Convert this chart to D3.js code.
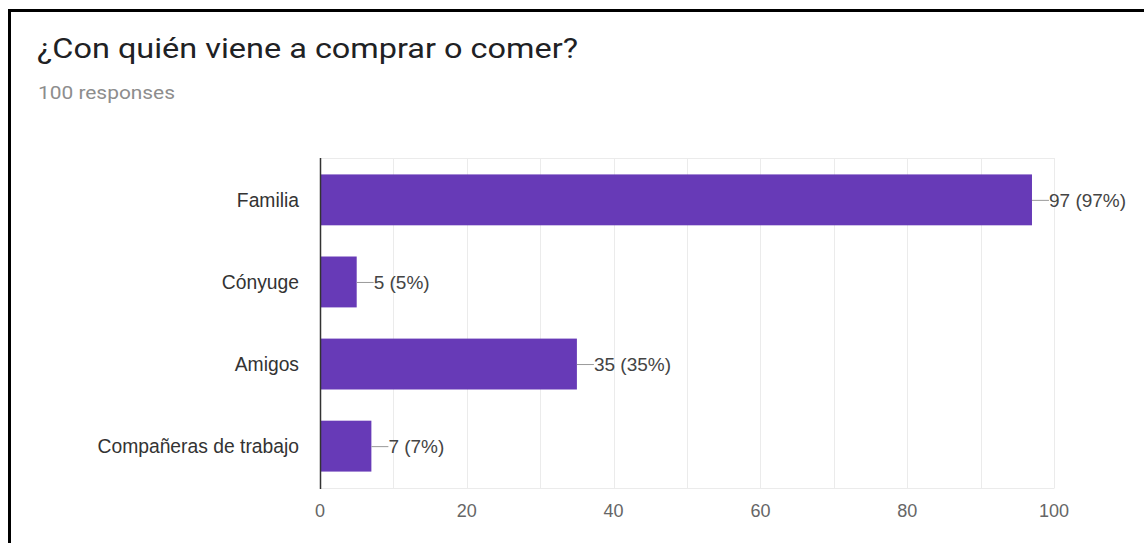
<!DOCTYPE html>
<html>
<head>
<meta charset="utf-8">
<script src="https://cdn.jsdelivr.net/npm/d3@7"></script>
<style>
  body { margin: 0; background: #fff; }
  svg { display: block; }
</style>
</head>
<body>
<svg id="chart" width="1144" height="543"></svg>
<script>
"use strict";

// data
var categories = ["Familia", "Cónyuge", "Amigos", "Compañeras de trabajo"];
var counts = [97, 5, 35, 7];
var totalResponses = 100;
var tickValues = [0, 20, 40, 60, 80, 100];
var gridValues = [10, 20, 30, 40, 50, 60, 70, 80, 90, 100];

var svg = d3.select("#chart");
var width = 1144, height = 543;
var labelFont = "Arial, 'Liberation Sans', sans-serif";

// black frame (left and top only visible)
svg.append("line")
  .attr("x1", 9.5).attr("y1", 10).attr("x2", 9.5).attr("y2", height)
  .attr("stroke", "#000").attr("stroke-width", 3);
svg.append("line")
  .attr("x1", 8).attr("y1", 10.5).attr("x2", width).attr("y2", 10.5)
  .attr("stroke", "#000").attr("stroke-width", 3);

// title block
svg.append("text")
  .attr("x", 37).attr("y", 58)
  .attr("font-family", "Roboto, sans-serif")
  .attr("font-size", "28px")
  .attr("fill", "#202124")
  .attr("textLength", 541)
  .attr("lengthAdjust", "spacingAndGlyphs")
  .text("¿Con quién viene a comprar o comer?");

svg.append("text")
  .attr("x", 38).attr("y", 99)
  .attr("font-family", "Roboto, sans-serif")
  .attr("font-size", "18px")
  .attr("fill", "#8d8d8d")
  .attr("textLength", 137)
  .attr("lengthAdjust", "spacingAndGlyphs")
  .text(totalResponses + " responses");

var margin = {left: 320, right: 1054, top: 158, bottom: 488};

var x = d3.scaleLinear()
  .domain([0, 100])
  .range([margin.left, margin.right]);

var y = d3.scaleBand()
  .domain(categories)
  .range([margin.top, margin.bottom])
  .paddingInner(0.38)
  .paddingOuter(0.2);

var g = svg.append("g");

// grid lines
g.selectAll(".grid")
  .data(gridValues)
  .enter()
  .append("line")
    .attr("class", "grid")
    .attr("x1", function (d) { return Math.round(x(d)) + 0.5; })
    .attr("x2", function (d) { return Math.round(x(d)) + 0.5; })
    .attr("y1", margin.top)
    .attr("y2", margin.bottom)
    .attr("stroke", "#ebebeb");

g.append("line")
  .attr("x1", margin.left).attr("x2", margin.right + 0.5)
  .attr("y1", margin.top + 0.5).attr("y2", margin.top + 0.5)
  .attr("stroke", "#ebebeb");
g.append("line")
  .attr("x1", margin.left).attr("x2", margin.right + 0.5)
  .attr("y1", margin.bottom + 0.5).attr("y2", margin.bottom + 0.5)
  .attr("stroke", "#ebebeb");

// bars
g.selectAll(".bar")
  .data(counts)
  .enter()
  .append("rect")
    .attr("class", "bar")
    .attr("x", x(0))
    .attr("y", function (d, i) { return y(categories[i]); })
    .attr("width", function (d) { return x(d) - x(0); })
    .attr("height", y.bandwidth())
    .attr("fill", "#673ab7");

// leader lines + value labels
g.selectAll(".leader")
  .data(counts)
  .enter()
  .append("line")
    .attr("class", "leader")
    .attr("x1", function (d) { return x(d); })
    .attr("x2", function (d) { return x(d) + 17; })
    .attr("y1", function (d, i) { return y(categories[i]) + y.bandwidth() / 2 + 0.5; })
    .attr("y2", function (d, i) { return y(categories[i]) + y.bandwidth() / 2 + 0.5; })
    .attr("stroke", "#999");

g.selectAll(".value")
  .data(counts)
  .enter()
  .append("text")
    .attr("class", "value")
    .attr("x", function (d) { return x(d) + 17; })
    .attr("y", function (d, i) { return y(categories[i]) + y.bandwidth() / 2; })
    .attr("dy", "0.36em")
    .attr("font-family", labelFont)
    .attr("font-size", "19px")
    .attr("fill", "#444")
    .text(function (d) { return d + " (" + Math.round(d / totalResponses * 100) + "%)"; });

// category labels
g.selectAll(".cat")
  .data(categories)
  .enter()
  .append("text")
    .attr("class", "cat")
    .attr("x", margin.left - 21)
    .attr("y", function (d) { return y(d) + y.bandwidth() / 2; })
    .attr("dy", "0.36em")
    .attr("text-anchor", "end")
    .attr("font-family", labelFont)
    .attr("font-size", "19.3px")
    .attr("fill", "#333")
    .text(function (d) { return d; });

// x tick labels
g.selectAll(".tick-label")
  .data(tickValues)
  .enter()
  .append("text")
    .attr("class", "tick-label")
    .attr("x", function (d) { return x(d); })
    .attr("y", 517)
    .attr("text-anchor", "middle")
    .attr("font-family", labelFont)
    .attr("font-size", "18px")
    .attr("fill", "#666")
    .text(function (d) { return d; });

// baseline axis
g.append("line")
  .attr("x1", Math.round(x(0)) + 0.5).attr("x2", Math.round(x(0)) + 0.5)
  .attr("y1", margin.top).attr("y2", margin.bottom + 1)
  .attr("stroke", "#333")
  .attr("stroke-width", 1.5);
</script>
</body>
</html>
